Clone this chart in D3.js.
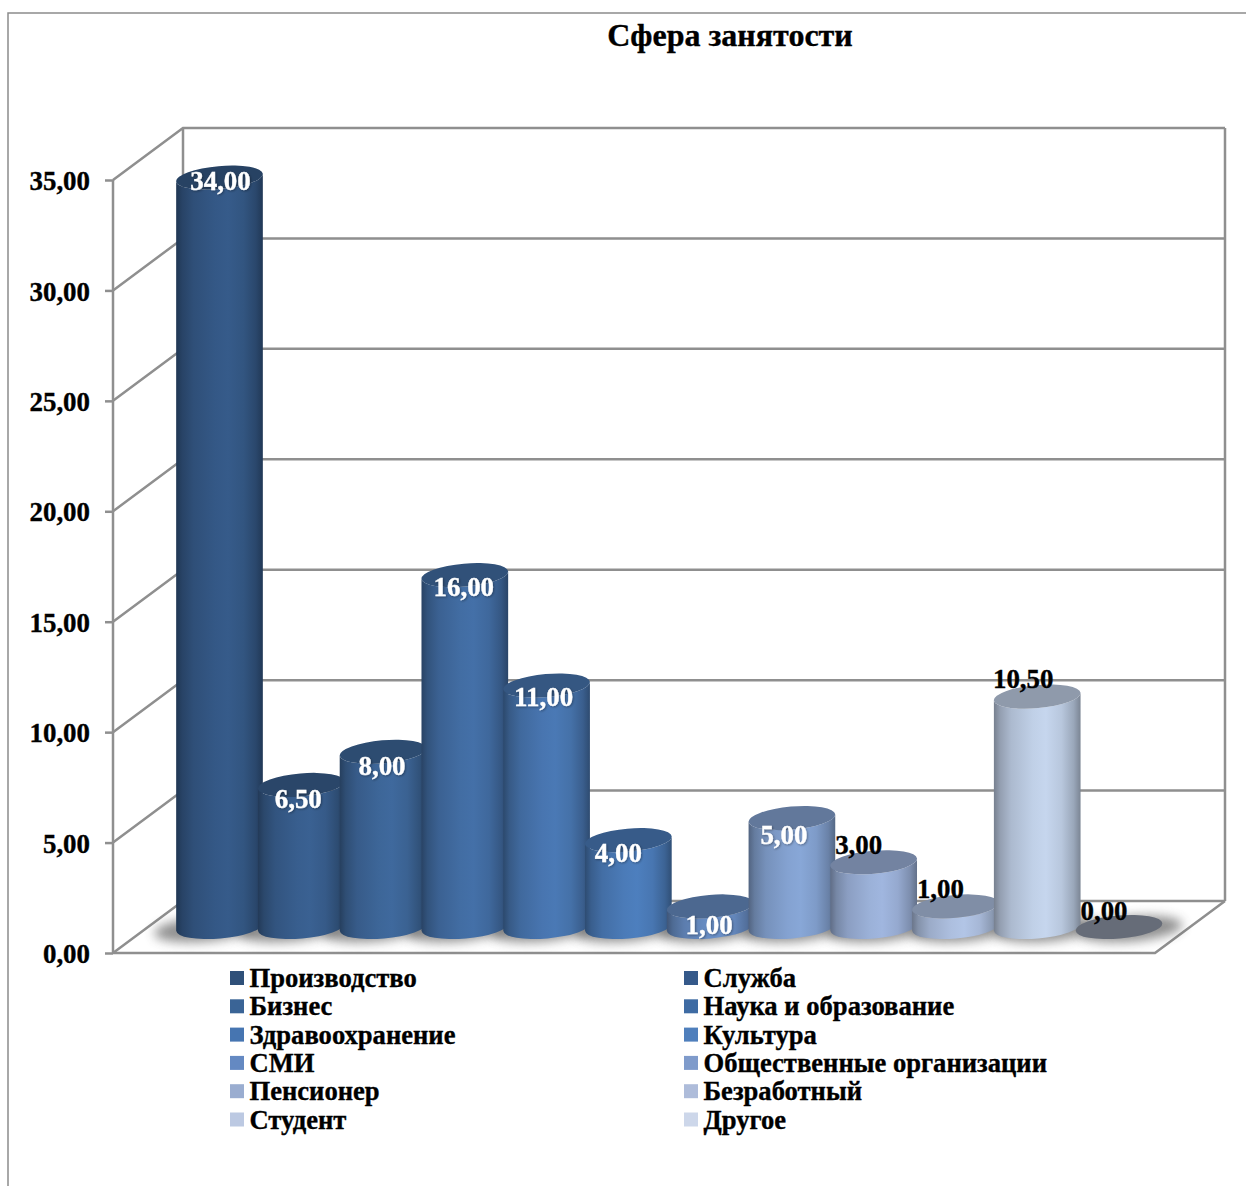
<!DOCTYPE html>
<html><head><meta charset="utf-8">
<script src="https://cdnjs.cloudflare.com/ajax/libs/d3/7.8.5/d3.min.js"></script>
<style>html,body{margin:0;background:#fff}svg{display:block}text{font-family:"Liberation Serif",serif;font-weight:bold;stroke-width:0.35px}</style>
</head><body><svg id="c" width="1246" height="1186"></svg>
<script>
const titleText = "Сфера занятости";
const categories = ["Производство","Служба","Бизнес","Наука и образование","Здравоохранение","Культура","СМИ","Общественные организации","Пенсионер","Безработный","Студент","Другое"];
const values = [34,6.5,8,16,11,4,1,5,3,1,10.5,0];
const barColors = ["#365b8a","#3a6192","#3f699d","#4470a8","#4a79b5","#4d7fbe","#6a90c8","#88a7d7","#a0b6df","#b2c5e6","#c6d6ee","#d5e0f1"];
const legendColors = ["#2f5079","#35598a","#3a6496","#3e6ba3","#4675b1","#4f7fbc","#6489c2","#7f9bcb","#9aadd0","#aebcda","#bcc9e2","#cdd7ea"];
const yTicks = [0,5,10,15,20,25,30,35];
const labelColors = ["#fff","#fff","#fff","#fff","#fff","#fff","#fff","#fff","#000","#000","#000","#000"];
// label nudges relative to the top of each bar [dx, dy]
const labelNudge = [[1,3.5],[-3,13.5],[-1,14.5],[-1,11.5],[-3,11.5],[-10,12.5],[-1,18.5],[-8,16.5],[-15,-17.5],[-15,-17.5],[-14,-17.5],[-15,-16]];

const fmt = v => v.toFixed(2).replace(".",",");
const svg = d3.select("#c");
const grid = "#8f8f8f";
const dx = 70, dy = -52;
const y = d3.scaleLinear().domain([0,35]).range([953,180]);
const x = d3.scalePoint().domain(categories).range([219.5,1119]);
const floorX0 = 113, floorX1 = 1155;

const defs = svg.append("defs");
defs.append("filter").attr("id","blur").attr("x","-30%").attr("y","-80%").attr("width","160%").attr("height","260%")
  .append("feGaussianBlur").attr("stdDeviation",5.5);
defs.append("filter").attr("id","tshadow").attr("x","-10%").attr("y","-10%").attr("width","120%").attr("height","120%")
  .append("feDropShadow").attr("dx",1).attr("dy",1).attr("stdDeviation",0.8).attr("flood-color","#000").attr("flood-opacity",0.35);

function shade(c,k){const r=d3.rgb(c);return d3.rgb(r.r*k,r.g*k,r.b*k).formatHex();}
barColors.forEach((c,i)=>{
  const g=defs.append("linearGradient").attr("id","g"+i);
  [[0,0.6],[0.07,0.74],[0.2,0.87],[0.45,0.97],[0.6,1],[0.78,0.93],[0.92,0.78],[1,0.62]].forEach(([o,k])=>
    g.append("stop").attr("offset",o).attr("stop-color",shade(c,k)));
});

// frame
svg.append("path").attr("d","M8,1186V13H1246").attr("fill","none").attr("stroke","#8c8c8c").attr("stroke-width",1.5);
// title
svg.append("text").attr("x",730).attr("y",46).attr("text-anchor","middle").attr("font-size",32).attr("stroke","#000").text(titleText);

// walls: grid on back wall and side wall
const gridG = svg.append("g").attr("fill","none").attr("stroke",grid).attr("stroke-width",2.5);
yTicks.forEach(t=>{
  gridG.append("path").attr("d",`M${floorX0},${y(t)}L${floorX0+dx},${y(t)+dy}L${floorX1+dx},${y(t)+dy}`);
});
gridG.append("path").attr("d",`M${floorX0+dx},${y(0)+dy}V${y(35)+dy}M${floorX1+dx},${y(0)+dy}V${y(35)+dy}`);
gridG.append("path").attr("d",`M${floorX1+dx},${y(0)+dy}L${floorX1},${y(0)}H${floorX0}`);

// axis
const axis = d3.axisLeft(y).tickValues(yTicks).tickFormat(fmt).tickSize(8).tickPadding(15);
const ag = svg.append("g").attr("transform",`translate(${floorX0},0)`).call(axis);
ag.selectAll("path,line").attr("stroke",grid).attr("stroke-width",2.5);
ag.select(".domain").attr("d",`M0,${y(35)}V${y(0)}`);
ag.selectAll("text").attr("font-size",26.9).attr("fill","#000").attr("stroke","#000").attr("font-family","Liberation Serif").attr("transform","translate(0,1)");

// cylinders
const rx=43.5, ry=11.5, rot=-5, base=y(0)-26, topShift=1.5;
const rad=rot*Math.PI/180, ex=rx*Math.cos(rad), ey=rx*Math.sin(rad);
const shadows=svg.append("g"), bars=svg.append("g"), labels=svg.append("g");
const off=d3.scaleLinear().domain([0,categories.length-1]).range([-14,12]);
categories.forEach((cat,i)=>{
  const cx=x(cat), v=values[i], h=y(0)-y(v), top=base-h+(v>0?topShift:0);
  shadows.append("ellipse").attr("cx",cx+off(i)).attr("cy",base+2).attr("rx",rx+8).attr("ry",ry+1)
    .attr("transform",`rotate(${rot} ${cx+off(i)} ${base+2})`).attr("fill","#444").attr("opacity",0.6).attr("filter","url(#blur)");
  const g=bars.append("g");
  if(v>0){
    g.append("path").attr("fill",`url(#g${i})`)
     .attr("d",`M${cx-ex},${top-ey}L${cx-ex},${base-ey}A${rx},${ry} ${rot} 0 0 ${cx+ex},${base+ey}L${cx+ex},${top+ey}A${rx},${ry} ${rot} 0 1 ${cx-ex},${top-ey}Z`);
  }
  g.append("ellipse").attr("cx",cx).attr("cy",top).attr("rx",rx).attr("ry",ry)
    .attr("transform",`rotate(${rot} ${cx} ${top})`)
    .attr("fill",v>0?shade(barColors[i],0.72):"#666c78");
  const [nx,ny]=labelNudge[i];
  const t=labels.append("text").attr("x",cx+nx).attr("y",top+ny).attr("dy","0.34em").attr("text-anchor","middle")
    .attr("font-size",26.9).attr("fill",labelColors[i]).attr("stroke",labelColors[i]).text(fmt(v));
  if(labelColors[i]==="#fff") t.attr("filter","url(#tshadow)");
});

// legend
const rowY=d3.scalePoint().domain(d3.range(6)).range([978,1119.5]);
const colX=[230,684];
categories.forEach((cat,i)=>{
  const cy=rowY(Math.floor(i/2)), lx=colX[i%2];
  svg.append("rect").attr("x",lx).attr("y",cy-7).attr("width",14).attr("height",14).attr("fill",legendColors[i]);
  svg.append("text").attr("x",lx+19.5).attr("y",cy).attr("dy","0.34em").attr("font-size",26.6).attr("fill","#000").attr("stroke","#000").text(cat);
});
</script></body></html>
